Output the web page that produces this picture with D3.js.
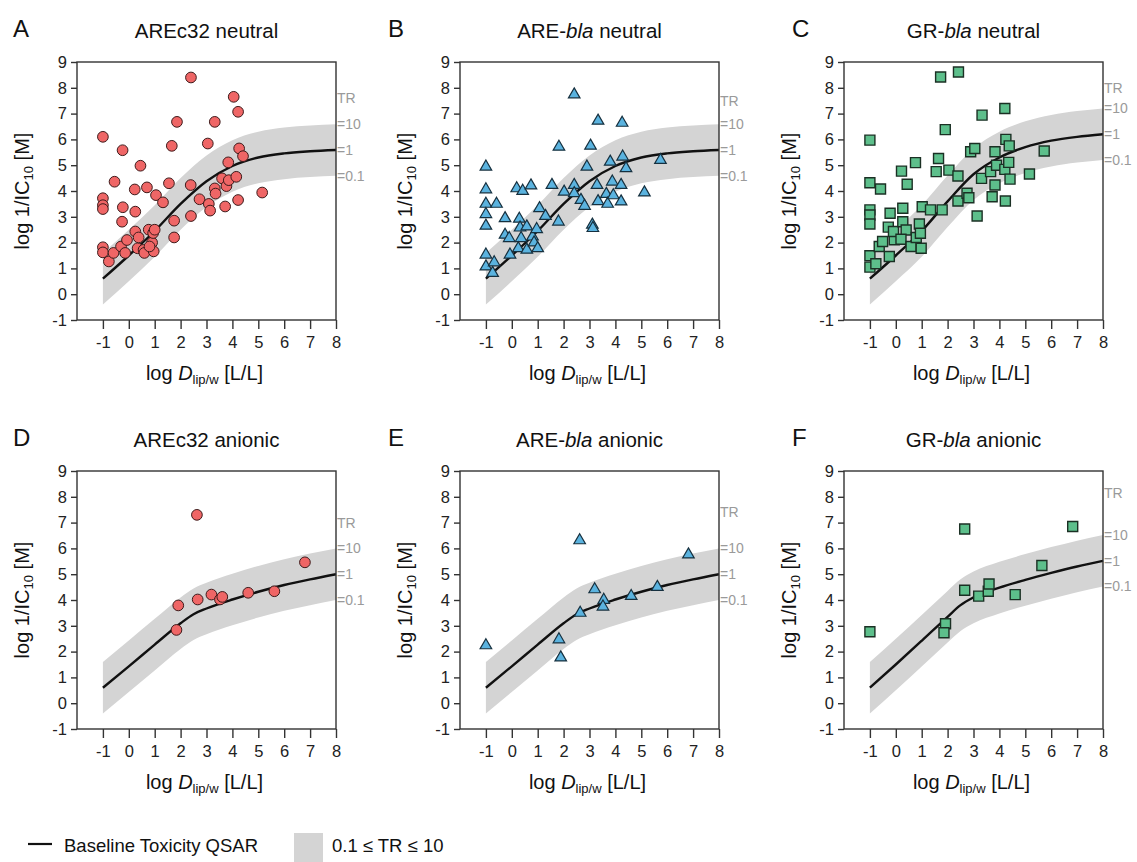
<!DOCTYPE html>
<html>
<head>
<meta charset="utf-8">
<script src="https://cdn.jsdelivr.net/npm/d3@7"></script>
<style>
	body { margin: 0; background: #fff; }
	svg { font-family: Arial, "Liberation Sans", Helvetica, sans-serif; }
</style>
</head>
<body>
<svg id="chart" width="1137" height="862"></svg>
<script>
// Tick values shared by all six panels
const xTickValues = [-1, 0, 1, 2, 3, 4, 5, 6, 7, 8];
const yTickValues = [-1, 0, 1, 2, 3, 4, 5, 6, 7, 8, 9];

// Toxic ratio range shown as the grey band (0.1 <= TR <= 10)
const trBounds = [0.1, 10];
const trLabels = ["=10", "=1", "=0.1"];

// Baseline toxicity QSAR curves: [log Dlip/w, log 1/IC10]
const baselineNeutralAre = [[-1, 0.6], [0, 1.5], [1, 2.45], [2, 3.5], [3, 4.38], [4, 4.97], [5, 5.3], [6, 5.46], [7, 5.54], [8, 5.59]];
const baselineNeutralGr = [[-1, 0.6], [0, 1.5], [1, 2.45], [2, 3.6], [3, 4.65], [4, 5.3], [5, 5.7], [6, 5.95], [7, 6.1], [8, 6.2]];
const baselineAnionicAre = [[-1, 0.6], [0, 1.43], [1, 2.27], [2, 3.1], [2.5, 3.45], [3, 3.67], [4, 4.02], [5, 4.32], [6, 4.58], [7, 4.8], [8, 5.0]];
const baselineAnionicGr = [[-1, 0.6], [0, 1.5], [1, 2.42], [2, 3.35], [2.5, 3.8], [3, 4.1], [4, 4.48], [5, 4.78], [6, 5.05], [7, 5.3], [8, 5.52]];

// Measured compounds: [log Dlip/w, log 1/IC10]
const arec32Neutral = [
	[-1, 6.1], [-1, 3.72], [-1, 3.45], [-1, 3.3], [-1, 1.82], [-1, 1.62], [-0.77, 1.27], [-0.59, 1.6],
	[-0.55, 4.36], [-0.24, 5.58], [-0.23, 3.37], [-0.26, 2.81], [-0.3, 1.85], [-0.14, 1.6], [-0.07, 2.1],
	[0.23, 4.06], [0.25, 3.2], [0.25, 2.43], [0.45, 4.98], [0.34, 1.78], [0.38, 2.2], [0.57, 1.72],
	[0.7, 4.14], [0.77, 2.5], [0.6, 1.6], [0.9, 2.0], [0.94, 2.37], [0.96, 1.66], [1.0, 2.5], [1.05, 3.84],
	[1.32, 3.56], [0.8, 1.85], [1.55, 4.3], [1.66, 5.75], [1.86, 6.68], [1.75, 2.85], [1.75, 2.2],
	[2.4, 8.4], [2.39, 4.23], [2.4, 3.03], [2.73, 3.68], [3.05, 5.84], [3.09, 3.5], [3.14, 3.24],
	[3.32, 6.68], [3.32, 4.1], [3.35, 3.9], [3.6, 4.49], [3.72, 3.4], [3.84, 5.11], [3.77, 4.19],
	[3.86, 4.42], [4.05, 7.65], [4.22, 7.07], [4.26, 5.65], [4.41, 5.35], [4.15, 4.55], [4.22, 3.65], [5.15, 3.94]
];
const areBlaNeutral = [
	[-1, 4.94], [-1, 4.06], [-1, 3.5], [-1, 3.1], [-1, 2.65], [-1, 1.53], [-1, 1.07], [-0.74, 0.82],
	[-0.68, 1.23], [-0.59, 3.5], [-0.26, 2.94], [-0.26, 2.3], [-0.1, 2.17], [-0.07, 1.53], [0.19, 4.1],
	[0.42, 4.0], [0.29, 2.92], [0.32, 2.58], [0.36, 2.17], [0.25, 1.78], [0.58, 2.62], [0.58, 1.72],
	[0.74, 4.21], [0.8, 2.23], [0.86, 2.0], [1.0, 1.78], [0.96, 2.52], [1.07, 3.33], [1.3, 3.03],
	[1.55, 4.23], [1.82, 5.71], [1.8, 2.81], [2.02, 3.97], [2.41, 7.74], [2.41, 4.23], [2.41, 3.91],
	[2.67, 3.65], [2.81, 3.42], [2.9, 4.94], [3.04, 5.75], [3.11, 2.69], [3.13, 2.56], [3.29, 4.23],
	[3.33, 6.72], [3.33, 3.6], [3.65, 3.88], [3.7, 3.5], [3.8, 5.13], [3.88, 4.36], [3.92, 3.83],
	[4.22, 4.23], [4.22, 3.59], [4.26, 6.64], [4.28, 5.33], [4.41, 4.88], [5.12, 3.94], [5.74, 5.2]
];
const grBlaNeutral = [
	[-1, 5.97], [-1, 4.32], [-1, 3.27], [-1, 3.07], [-1, 2.72], [-1, 1.49], [-1, 1.05], [-0.77, 1.18],
	[-0.59, 4.08], [-0.64, 1.85], [-0.51, 2.04], [-0.22, 3.14], [-0.29, 2.6], [-0.25, 1.46], [-0.06, 2.11],
	[-0.09, 2.43], [0.22, 4.77], [0.44, 4.26], [0.27, 3.33], [0.27, 2.81], [0.4, 2.49], [0.2, 2.13],
	[0.59, 1.85], [0.76, 5.1], [0.79, 2.2], [0.91, 2.72], [0.95, 2.36], [0.98, 1.78], [1.02, 3.39],
	[1.34, 3.27], [1.56, 4.75], [1.65, 5.26], [1.73, 8.42], [1.79, 3.27], [1.91, 6.38], [2.05, 4.81],
	[2.42, 8.61], [2.4, 4.58], [2.4, 3.61], [2.75, 3.91], [2.82, 3.74], [2.89, 5.52], [3.05, 5.65],
	[3.14, 3.03], [3.33, 6.94], [3.31, 4.49], [3.66, 4.75], [3.72, 3.78], [3.83, 5.52], [3.83, 4.23],
	[3.89, 5.0], [4.21, 7.2], [4.25, 6.0], [4.21, 4.84], [4.23, 3.61], [4.38, 5.75], [4.36, 5.11],
	[4.41, 4.46], [5.16, 4.66], [5.73, 5.55]
];
const arec32Anionic = [[2.63, 7.3], [1.91, 3.79], [1.84, 2.84], [2.66, 4.02], [3.19, 4.21], [3.52, 4.02], [3.61, 4.12], [4.61, 4.28], [5.62, 4.34], [6.8, 5.46]];
const areBlaAnionic = [[-1, 2.24], [2.62, 6.31], [1.82, 2.47], [1.89, 1.77], [2.64, 3.5], [3.2, 4.41], [3.55, 4.0], [3.52, 3.74], [4.61, 4.15], [5.62, 4.5], [6.82, 5.76]];
const grBlaAnionic = [[-1, 2.77], [1.92, 3.08], [1.86, 2.73], [2.66, 6.75], [2.66, 4.38], [3.2, 4.15], [3.57, 4.34], [3.6, 4.62], [4.61, 4.21], [5.64, 5.34], [6.83, 6.85]];

// Panel titles: [plain, italic, plain]
const panelLetters = ["A", "B", "C", "D", "E", "F"];
const panelTitles = [
	["AREc32 neutral", "", ""],
	["ARE-", "bla", " neutral"],
	["GR-", "bla", " neutral"],
	["AREc32 anionic", "", ""],
	["ARE-", "bla", " anionic"],
	["GR-", "bla", " anionic"]
];
const panelData = [arec32Neutral, areBlaNeutral, grBlaNeutral, arec32Anionic, areBlaAnionic, grBlaAnionic];
const panelCurves = [baselineNeutralAre, baselineNeutralAre, baselineNeutralGr, baselineAnionicAre, baselineAnionicAre, baselineAnionicGr];
const panelTrLevel = [7.6, 7.5, 8.0, 7.0, 7.4, 8.15];

// Layout
const colLeft = [77, 460, 844];
const rowTop = [62, 471];
const boxW = 259;
const boxH = 258;
const letterX = [13, 388, 792];

const markerStyles = [
	{ type: d3.symbolCircle, size: 90, fill: "#ef6666", stroke: "#3d1a1a", width: 1 },
	{ type: d3.symbolTriangle, size: 58, fill: "#5bb3df", stroke: "#16303f", width: 1.2 },
	{ type: d3.symbolSquare, size: 100, fill: "#5dbf8b", stroke: "#1b3024", width: 1.4 }
];

const svg = d3.select("#chart");

panelTitles.forEach((title, i) => {
	const col = i % 3;
	const row = Math.floor(i / 3);
	const left = colLeft[col];
	const top = rowTop[row];

	const x = d3.scaleLinear().domain([-2, 8]).range([left, left + boxW]);
	const y = d3.scaleLinear().domain([-1, 9]).range([top + boxH, top]);

	const g = svg.append("g");

	// TR band and baseline curve
	const curve = panelCurves[i];
	const area = d3.area()
		.x(d => x(d[0]))
		.y0(d => y(d[1] + Math.log10(trBounds[0])))
		.y1(d => y(d[1] + Math.log10(trBounds[1])))
		.curve(d3.curveMonotoneX);
	g.append("path").datum(curve).attr("fill", "#d4d4d4").attr("d", area);

	const line = d3.line()
		.x(d => x(d[0]))
		.y(d => y(d[1]))
		.curve(d3.curveMonotoneX);
	g.append("path").datum(curve)
		.attr("fill", "none")
		.attr("stroke", "#111")
		.attr("stroke-width", 2.4)
		.attr("d", line);

	// data points
	const m = markerStyles[col];
	g.selectAll(".pt")
		.data(panelData[i])
		.join("path")
		.attr("transform", d => `translate(${x(d[0])},${y(d[1])})`)
		.attr("d", d3.symbol().type(m.type).size(m.size))
		.attr("fill", m.fill)
		.attr("stroke", m.stroke)
		.attr("stroke-width", m.width);

	// frame
	g.append("rect")
		.attr("x", left).attr("y", top)
		.attr("width", boxW).attr("height", boxH)
		.attr("fill", "none")
		.attr("stroke", "#333")
		.attr("stroke-width", 1.4);

	// axes
	const yAxis = g.append("g")
		.attr("transform", `translate(${left},0)`)
		.call(d3.axisLeft(y).tickValues(yTickValues).tickSize(6).tickPadding(4).tickFormat(d3.format("d")));
	const xAxis = g.append("g")
		.attr("transform", `translate(0,${top + boxH})`)
		.call(d3.axisBottom(x).tickValues(xTickValues).tickSize(9).tickPadding(7).tickFormat(d3.format("d")));
	[xAxis, yAxis].forEach(a => {
		a.select(".domain").remove();
		a.selectAll("line").attr("stroke", "#333").attr("stroke-width", 1.4);
		a.selectAll("text").attr("font-size", 16.5).attr("fill", "#222");
		a.attr("font-family", null);
	});
	xAxis.selectAll("text").text(d => d < 0 ? "-" + Math.abs(d) : d);
	yAxis.selectAll("text").text(d => d < 0 ? "-" + Math.abs(d) : d);

	// TR labels at right edge
	const last = curve[curve.length - 1][1];
	const trValues = [last + Math.log10(trBounds[1]), last, last + Math.log10(trBounds[0])];
	g.selectAll(".tr")
		.data(trLabels)
		.join("text")
		.attr("x", left + boxW + 1)
		.attr("y", (d, k) => y(trValues[k]))
		.attr("dy", "0.35em")
		.attr("font-size", 14)
		.attr("fill", "#9a9a9a")
		.text(d => d);
	g.append("text")
		.attr("x", left + boxW + 1)
		.attr("y", y(panelTrLevel[i]))
		.attr("dy", "0.35em")
		.attr("font-size", 14)
		.attr("fill", "#9a9a9a")
		.text("TR");

	// panel letter and title
	g.append("text")
		.attr("x", letterX[col])
		.attr("y", top - 25)
		.attr("font-size", 24)
		.attr("fill", "#111")
		.text(panelLetters[i]);
	const t = g.append("text")
		.attr("x", left + boxW / 2)
		.attr("y", top - 24)
		.attr("text-anchor", "middle")
		.attr("font-size", 20.5)
		.attr("fill", "#111");
	t.append("tspan").text(title[0]);
	if (title[1]) t.append("tspan").attr("font-style", "italic").text(title[1]);
	if (title[2]) t.append("tspan").text(title[2]);

	// axis titles
	const xl = g.append("text")
		.attr("x", left + boxW / 2 - 2)
		.attr("y", top + boxH + 60)
		.attr("text-anchor", "middle")
		.attr("font-size", 20)
		.attr("fill", "#111");
	xl.append("tspan").text("log ");
	xl.append("tspan").attr("font-style", "italic").text("D");
	xl.append("tspan").attr("font-size", 13).attr("dy", 4).text("lip/w");
	xl.append("tspan").attr("dy", -4).text(" [L/L]");

	const yl = g.append("text")
		.attr("transform", `translate(${left - 48},${top + boxH / 2}) rotate(-90)`)
		.attr("text-anchor", "middle")
		.attr("font-size", 20)
		.attr("fill", "#111");
	yl.append("tspan").text("log 1/IC");
	yl.append("tspan").attr("font-size", 13).attr("dy", 4).text("10");
	yl.append("tspan").attr("dy", -4).text(" [M]");
});

// legend
const legend = svg.append("g");
legend.append("line")
	.attr("x1", 28).attr("x2", 52)
	.attr("y1", 844).attr("y2", 844)
	.attr("stroke", "#111").attr("stroke-width", 2.2);
legend.append("text")
	.attr("x", 64).attr("y", 852)
	.attr("font-size", 18.5).attr("fill", "#111")
	.text("Baseline Toxicity QSAR");
legend.append("rect")
	.attr("x", 294).attr("y", 833)
	.attr("width", 29).attr("height", 29)
	.attr("fill", "#d4d4d4");
legend.append("text")
	.attr("x", 332).attr("y", 852)
	.attr("font-size", 18.5).attr("fill", "#111")
	.text("0.1 ≤ TR ≤ 10");
</script>
</body>
</html>
